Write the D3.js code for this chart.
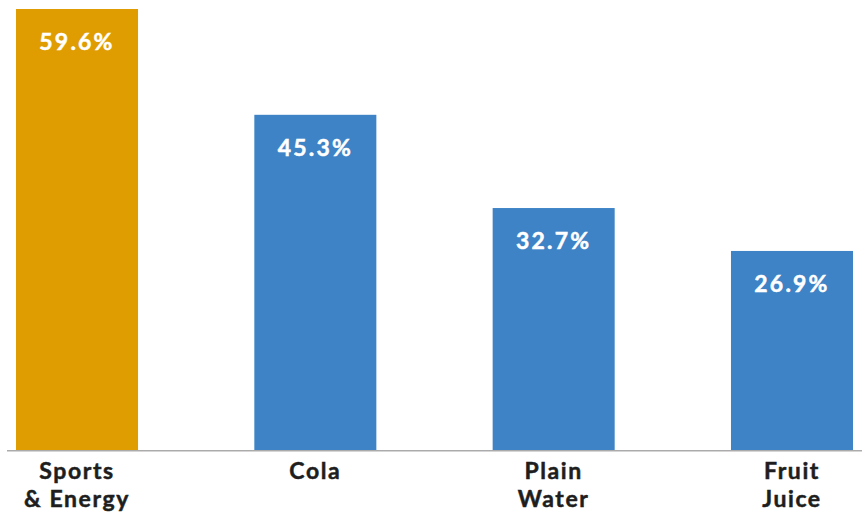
<!DOCTYPE html>
<html>
<head>
<meta charset="utf-8">
<script src="https://cdn.jsdelivr.net/npm/d3@7"></script>
<style>
  html, body { margin: 0; padding: 0; background: #fff; }
  svg { display: block; }
  text { font-family: Lato, "Open Sans", "DejaVu Sans", sans-serif; font-weight: 700; }
</style>
</head>
<body>
<svg id="chart" width="862" height="515"></svg>
<script>
// Share of drinks consumed, by beverage category
const categories = ["Sports & Energy", "Cola", "Plain Water", "Fruit Juice"];
const categoryLines = [["Sports", "& Energy"], ["Cola"], ["Plain", "Water"], ["Fruit", "Juice"]];
const values = [59.6, 45.3, 32.7, 26.9];
const highlight = ["Sports & Energy"];

const width = 862, height = 515;
const baseline = 450;

const svg = d3.select("#chart");

const x = d3.scaleBand()
  .domain(categories)
  .range([16, 853])
  .paddingInner(0.488)
  .paddingOuter(0);

const y = d3.scaleLinear()
  .domain([0, 59.6])
  .range([baseline, 9]);

const orange = "#DF9D02";
const blue = "#3D83C6";

// bars
svg.append("g").selectAll("rect")
  .data(categories)
  .join("rect")
  .attr("x", d => x(d))
  .attr("y", (d, i) => y(values[i]))
  .attr("width", x.bandwidth())
  .attr("height", (d, i) => y(0) - y(values[i]))
  .attr("fill", d => highlight.includes(d) ? orange : blue);

// value labels inside bars
svg.append("g").selectAll("text")
  .data(categories)
  .join("text")
  .attr("x", d => x(d) + x.bandwidth() / 2)
  .attr("y", (d, i) => y(values[i]) + 41)
  .attr("text-anchor", "middle")
  .attr("fill", "#ffffff")
  .attr("stroke", "#ffffff")
  .attr("stroke-width", 0.5)
  .attr("font-size", 23)
  .attr("font-weight", 900)
  .attr("letter-spacing", 2.2)
  .text((d, i) => values[i].toFixed(1) + "%");

// baseline axis
const xAxis = d3.axisBottom(x).tickSize(0).tickFormat("");
const axisG = svg.append("g")
  .attr("transform", `translate(0,${baseline + 0.75})`)
  .call(xAxis);
axisG.select(".domain").remove();
axisG.append("line")
  .attr("x1", 7).attr("x2", width)
  .attr("y1", 0).attr("y2", 0)
  .attr("stroke", "#ababab")
  .attr("stroke-width", 1.5);

// category labels, one text per line
const labelG = svg.append("g");
categories.forEach((d, i) => {
  categoryLines[i].forEach((line, k) => {
    labelG.append("text")
      .attr("text-anchor", "middle")
      .attr("fill", "#1e1e1e")
      .attr("stroke", "#1e1e1e")
      .attr("stroke-width", 0.5)
      .attr("font-size", 23)
      .attr("font-weight", 900)
      .attr("letter-spacing", 1.6)
      .attr("x", x(d) + x.bandwidth() / 2)
      .attr("y", 479 + k * 27.5)
      .text(line);
  });
});
</script>
</body>
</html>
